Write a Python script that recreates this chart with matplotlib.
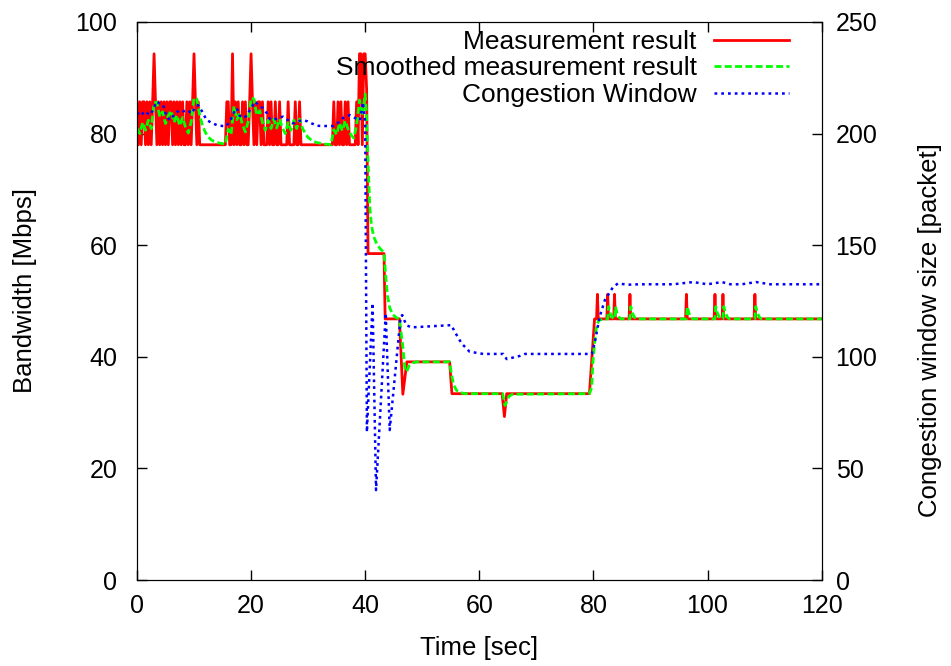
import numpy as np
import matplotlib.pyplot as plt

plt.rcParams["font.family"] = ["Liberation Sans", "DejaVu Sans"]

H, L, S = 85.7, 78.0, 94.3

# --- measurement result (Mbps), 0-40 s sampled every 0.25 s ---
meas_early_t = np.arange(0, 40.01, 0.25)
meas_early = [
    H, L, H, L, H, H, L, H,
    L, H, L, H, S, H, L, H,
    L, H, L, H, L, H, L, H,
    H, L, H, L, H, L, H, L,
    H, L, L, H, L, H, L, H,
    S, H, L, H, L, L, L, L,
    L, L, L, L, L, L, L, L,
    L, L, L, L, L, L, L, H,
    H, L, L, S, L, H, L, H,
    L, L, H, L, H, L, L, H,
    S, H, L, H, L, H, H, L,
    H, L, L, L, H, L, H, L,
    L, H, L, L, H, L, L, L,
    L, L, H, L, L, L, L, H,
    L, L, H, L, L, L, L, L,
    L, L, L, L, L, L, L, L,
    L, L, L, L, L, L, L, L,
    L, L, H, L, L, H, L, H,
    L, L, H, L, H, L, L, L,
    L, L, H, L, S, S, L, S,
    S,
]

# --- smoothed result, 0-40 s every 0.5 s ---
smooth_early_t = np.arange(0, 40.01, 0.5)
smooth_early = [
    81.0, 80.0, 82.0, 80.6, 82.4, 80.9, 85.6, 85.6, 83.0, 83.9,
    81.8, 83.2, 84.1, 82.0, 83.3, 81.4, 82.9, 81.2, 80.1, 82.1,
    86.4, 86.2, 83.3, 81.4, 80.2, 79.4, 78.9, 78.6, 78.4, 78.3,
    78.2, 78.1, 80.8, 79.8, 84.9, 82.5, 83.6, 81.6, 80.3, 82.2,
    86.4, 86.2, 83.3, 84.1, 82.0, 80.6, 82.4, 80.9, 82.6, 81.0,
    82.6, 81.0, 80.0, 82.0, 80.6, 82.4, 80.9, 82.6, 81.0, 80.0,
    79.3, 78.9, 78.6, 78.4, 78.3, 78.2, 78.1, 78.1, 78.0, 80.7,
    79.8, 81.9, 80.5, 82.3, 80.8, 79.8, 79.2, 81.5, 86.0, 83.2,
    87.1,
]

# --- after 40 s: breakpoints ---
meas_late_t = [40.25, 40.5, 43.3, 43.5, 46.0, 46.6, 47.3, 54.8, 55.2, 64.0,
               64.4, 64.8, 79.3, 80.2, 120.0]
meas_late_v = [88.0, 58.5, 58.5, 46.8, 46.8, 33.3, 39.1, 39.1, 33.4, 33.4,
               29.3, 33.4, 33.4, 46.8, 46.8]
spike_t = [80.7, 82.5, 83.7, 86.4, 96.3, 101.3, 102.7, 108.3]
spike_top = 51.2
base_late = 46.8

smooth_late_t = [40.2, 40.5, 40.8, 41.1, 41.5, 42.0, 42.6, 43.3, 43.6, 43.9,
                 44.3, 44.8, 45.5, 46.0, 46.6, 47.0, 47.3, 47.7, 48.3, 49.0,
                 54.8, 55.1, 55.5, 56.0, 56.6, 57.5, 64.1, 64.5, 64.8, 65.2,
                 65.8, 79.3, 79.7, 79.9, 80.3, 80.6, 81.0, 120.0]
smooth_late_v = [84.0, 75.0, 67.0, 63.5, 61.5, 60.3, 59.4, 58.7, 54.5, 51.0,
                 48.8, 47.6, 47.0, 46.8, 41.8, 37.5, 37.4, 38.4, 38.9, 39.1,
                 39.1, 37.0, 35.0, 34.0, 33.6, 33.4, 33.4, 31.3, 32.0, 32.9,
                 33.3, 33.4, 34.5, 38.9, 43.5, 45.8, 46.6, 46.8]
bump_dt = [0.0, 0.15, 0.45, 0.8, 1.1]
bump_v = [46.8, 49.0, 47.8, 47.1, 46.8]

# --- congestion window (packets) ---
cwnd_t = [0, 0.7, 1.3, 2.3, 2.9, 3.4, 4.0, 4.6, 5.2, 5.8, 6.5, 7.5, 8.2, 8.9,
          9.5, 10.2, 10.7, 11.4, 12.2, 13.1, 14.0, 15.0, 15.7, 16.4, 17.0,
          17.5, 18.0, 18.6, 19.2, 19.9, 20.7, 21.4, 22.1, 22.8, 23.3, 23.9,
          24.7, 25.6, 26.5, 27.4, 28.2, 29.1, 29.9, 30.6, 31.6, 32.6, 33.5,
          34.4, 35.3, 36.1, 37.3, 38.2, 39.1, 39.6, 40.0, 40.3, 41.3, 41.9,
          43.6, 44.3, 46.2, 46.5, 47.2, 48.1, 55.1, 55.7, 56.9, 58.3, 60.7,
          64.2, 64.8, 67.1, 68.0, 79.7, 80.2, 81.1, 82.0, 83.4, 84.3, 86.0,
          88.0, 91.0, 94.0, 97.5, 100.0, 102.5, 104.0, 106.0, 108.5, 111.0,
          120.0]
cwnd_v = [209.5, 208, 210, 208.3, 211, 214.3, 213.5, 212.8, 207.6, 206,
          208.5, 210.6, 210, 210.6, 209, 211.5, 212.8, 210, 206.1, 204.8,
          203.8, 203.4, 203.4, 206, 209.5, 211.4, 208, 206.9, 208, 211,
          214.3, 212.5, 211.4, 209, 206.5, 206.1, 207, 207.6, 206, 204.6,
          205.5, 206, 205.5, 204.6, 203.5, 203.4, 203.4, 203.4, 205, 206.9,
          208.3, 207, 206, 214, 205, 66.3, 124.1, 40.3, 119.6, 67.2,
          117.8, 118.7, 114.2, 113.2, 114.2, 111.2, 106, 102.3, 101.3, 101.3,
          99, 100.4, 101.3, 101.3, 106, 118, 125.4, 131.1, 132.9, 132.3,
          132.5, 132.5, 132.5, 133.5, 132.5, 133.5, 132.5, 132.5, 133.5, 132.5,
          132.5]

# assemble series
mt = list(meas_early_t) + meas_late_t
mv = list(meas_early) + meas_late_v
for s in spike_t:
    mt += [s - 0.15, s, s + 0.15]
    mv += [base_late, spike_top, base_late]
order = np.argsort(mt, kind="stable")
mt = np.array(mt)[order]
mv = np.array(mv)[order]

st = list(smooth_early_t) + smooth_late_t
sv = list(smooth_early) + smooth_late_v
for s in spike_t[1:]:
    st += [s + d for d in bump_dt]
    sv += bump_v
order = np.argsort(st, kind="stable")
st = np.array(st)[order]
sv = np.array(sv)[order]

FS_TICK = 18
FS_LAB = 18.5
FS_LEG = 19

fig = plt.figure(figsize=(9.51, 6.66), dpi=100)
ax = fig.add_axes([0.144, 0.129, 0.72, 0.838])
ax2 = ax.twinx()

l1, = ax.plot(mt, mv, color="#ff0000", lw=2.0, label="Measurement result")
l2, = ax.plot(st, sv, color="#00ff00", lw=2.0, dashes=(2.5, 1.2),
              label="Smoothed measurement result")
l3, = ax2.plot(cwnd_t, cwnd_v, color="#0000ff", lw=1.8, dashes=(1.1, 1.6),
               label="Congestion Window")

ax.set_xlim(0, 120)
ax.set_ylim(0, 100)
ax2.set_ylim(0, 250)
ax.set_xticks([0, 20, 40, 60, 80, 100, 120])
ax.set_yticks([0, 20, 40, 60, 80, 100])
ax2.set_yticks([0, 50, 100, 150, 200, 250])

ax.tick_params(axis="x", direction="in", length=7, width=1,
               labelsize=FS_TICK, top=True, pad=10)
ax.tick_params(axis="y", direction="in", length=7, width=1,
               labelsize=FS_TICK, pad=14)
ax2.tick_params(direction="in", length=7, width=1, labelsize=FS_TICK, pad=10)

ax.set_xlabel("Time [sec]", fontsize=FS_LAB, va="center")
ax.xaxis.set_label_coords(0.5, -0.122)
ax.set_ylabel("Bandwidth [Mbps]", fontsize=FS_LAB, va="center")
ax.yaxis.set_label_coords(-0.1635, 0.518)
ax2.set_ylabel("Congestion window size [packet]", fontsize=FS_LAB,
               va="center")
ax2.yaxis.set_label_coords(1.158, 0.448)

leg = ax.legend(handles=[l1, l2, l3], loc="upper right",
                bbox_to_anchor=(0.953, 0.986), frameon=False,
                markerfirst=False, fontsize=FS_LEG, handlelength=2.85,
                handletextpad=0.66, labelspacing=0.1, borderpad=0.0,
                borderaxespad=0.0)

fig.savefig("out.png", dpi=100)
